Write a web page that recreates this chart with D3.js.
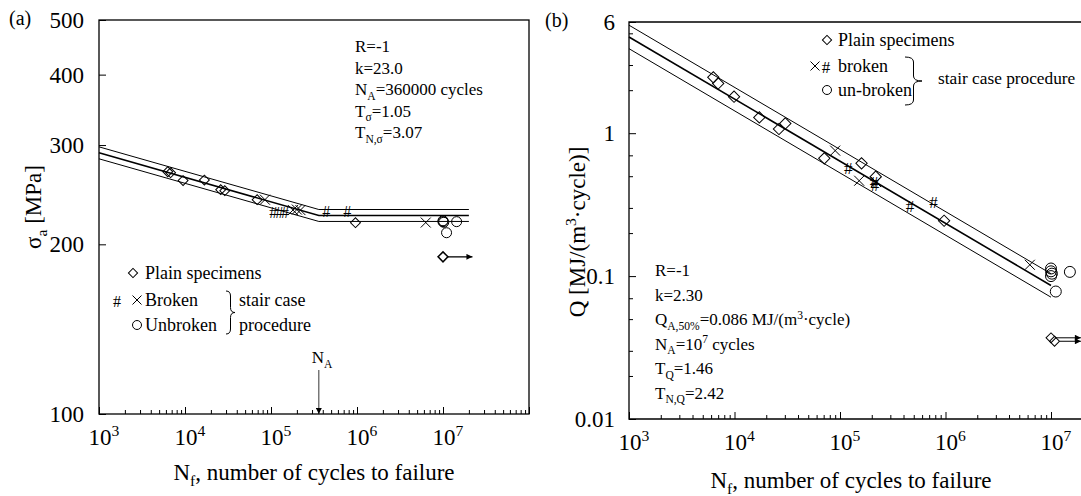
<!DOCTYPE html>
<html><head><meta charset="utf-8">
<script src="https://cdn.jsdelivr.net/npm/d3@7"></script>
<style>
body{margin:0;background:#fff}
svg{display:block}
svg text{font-family:'Liberation Serif','Times New Roman','DejaVu Serif',serif !important;fill:#000}
</style>
</head><body>
<svg id="chart" width="1081" height="496" font-family="'Liberation Serif', 'DejaVu Serif', serif"></svg>
<script>
// ---------- Panel (a): stress amplitude vs. cycles ----------
const plainA      = [[6.3e3,269],[6.8e3,268],[9.5e3,259.5],[1.68e4,260],[2.6e4,250],[2.9e4,249],[6.9e4,240],[9.6e5,218.5]];
const crossA      = [[8.5e4,240],[1.8e5,230],[2.0e5,230.5],[2.2e5,230],[6.3e6,218.6]];
const hashA       = [[1.06e5,227.6],[1.25e5,227.6],[1.45e5,227.6],[4.4e5,228.5],[7.7e5,228.5]];
const unbrokenA   = [[1e7,219.4],[1e7,220.2],[1.02e7,218.8],[1.44e7,219.4],[1.1e7,209.7]];
const runoutA     = [[1e7,190]];
const runoutEndA  = 2.2e7;
const yTicksA     = [100,200,300,400,500];
const xLabelsA    = [3,4,5,6,7];
// fit parameters (a)
const kA = 23.0, NA_A = 360000, Tsig = 1.05, sigA50 = 225, NfitA = [1e3, 2e7];

// ---------- Panel (b): energy per cycle vs. cycles ----------
const plainB      = [[6.3e3,2.46],[7.0e3,2.23],[9.9e3,1.80],[1.72e4,1.29],[2.64e4,1.07],[3.03e4,1.17],[7.1e4,0.667],[1.6e5,0.615],[2.18e5,0.496],[9.7e5,0.244]];
const crossB      = [[9.0e4,0.755],[1.52e5,0.465],[2.2e5,0.455],[6.3e6,0.12]];
const hashB       = [[1.2e5,0.568],[2.15e5,0.434],[2.1e5,0.45],[4.6e5,0.306],[7.7e5,0.326]];
const unbrokenB   = [[1e7,0.113],[1e7,0.108],[1.02e7,0.104],[1e7,0.100],[1.51e7,0.107],[1.11e7,0.078]];
const runoutB     = [[1e7,0.037],[1.08e7,0.035]];
const runoutEndB  = 1.92e7;
const yTicksB     = [0.01,0.1,1,6];
const yLabelsB    = ["0.01","0.1","1","6"];
const xLabelsB    = [3,4,5,6,7];
// fit parameters (b)
const kB = 2.30, QA50 = 0.086, NA_B = 1e7, TQ = 1.46, NfitB = [1e3, 1e7];

const FONT = "'Liberation Serif', 'DejaVu Serif', serif";
const svg = d3.select("#chart");

// scales
const xA = d3.scaleLog().domain([1e3,1e8]).range([99,529]);
const yA = d3.scaleLog().domain([100,500]).range([414,20]);
const xB = d3.scaleLog().domain([1e3,2e7]).range([629,629+105.5*Math.log10(2e4)]);
const yB = d3.scaleLog().domain([0.01,6]).range([419,22]);

// arrow head
svg.append("defs").append("marker")
  .attr("id","head").attr("viewBox","0 0 10 10").attr("refX",10).attr("refY",5)
  .attr("markerUnits","userSpaceOnUse")
  .attr("markerWidth",9).attr("markerHeight",6).attr("orient","auto")
  .append("path").attr("d","M0,0 L10,5 L0,10 Z").attr("fill","#000");

// text with sub/superscripts: parts = [[str, "sub"|"sup"|undefined], ...]
function rich(g, x, y, parts, size, anchor){
  const t = g.append("text").attr("x",x).attr("y",y).attr("font-size",size)
    .attr("font-family",FONT).attr("text-anchor",anchor||"start");
  let cur = 0;
  parts.forEach(p=>{
    const s = t.append("tspan").text(p[0]);
    const shift = p[1]==="sub" ? size*0.28 : p[1]==="sup" ? -size*0.38 : 0;
    s.attr("dy", shift-cur);
    if(p[1]) s.attr("font-size", size*0.68);
    cur = shift;
  });
  return t;
}
function plain(g, x, y, str, size){
  return g.append("text").attr("x",x).attr("y",y).attr("font-size",size)
    .attr("font-family",FONT).text(str);
}

function minorLog(lo, hi, mults){
  const v=[];
  for(let d=lo; d<hi; d++) mults.forEach(m=>v.push(m*Math.pow(10,d)));
  return v;
}

function brace(g, x, y0, y1, w){
  const ym=(y0+y1)/2, r=5, xm=x+w/2;
  g.append("path").attr("fill","none").attr("stroke","#000").attr("stroke-width",1)
    .attr("d",`M${x},${y0} Q${xm},${y0} ${xm},${y0+r} L${xm},${ym-r} Q${xm},${ym} ${x+w},${ym} Q${xm},${ym} ${xm},${ym+r} L${xm},${y1-r} Q${xm},${y1} ${x},${y1}`);
}

function diamond(g, x, y, s, w){
  g.append("path").attr("transform",`translate(${x},${y}) rotate(45)`)
    .attr("d",d3.symbol().type(d3.symbolSquare).size(s*s)())
    .attr("fill","none").attr("stroke","#000").attr("stroke-width",w||1);
}
function cross(g, x, y, h){
  g.append("path").attr("d",`M${x-h},${y-h}L${x+h},${y+h}M${x-h},${y+h}L${x+h},${y-h}`)
    .attr("stroke","#000").attr("stroke-width",1).attr("fill","none");
}
function circ(g, x, y, r, w){
  g.append("circle").attr("cx",x).attr("cy",y).attr("r",r)
    .attr("fill","none").attr("stroke","#000").attr("stroke-width",w||1);
}
function hash(g, x, y, size){
  g.append("text").attr("x",x).attr("y",y).attr("font-size",size).attr("font-family",FONT)
    .attr("text-anchor","middle").attr("dominant-baseline","central").text("#");
}

function xAxis(g, x, y0, labels, decades){
  const [lo,hi]=decades;
  g.append("g").attr("transform",`translate(0,${y0})`)
    .call(d3.axisBottom(x).tickValues(minorLog(lo,hi,[2,3,4,5,6,7,8,9]).filter(v=>v<=x.domain()[1])).tickSize(-4).tickFormat(""))
    .call(s=>s.select(".domain").remove());
  const majors=d3.range(lo,hi+1).map(d=>Math.pow(10,d)).filter(v=>v<=x.domain()[1]);
  g.append("g").attr("transform",`translate(0,${y0})`)
    .call(d3.axisBottom(x).tickValues(majors).tickSize(-7).tickFormat(""))
    .call(s=>s.select(".domain").remove());
  labels.forEach(e=>{
    rich(g, x(Math.pow(10,e))+5, y0+31, [["10"],[String(e),"sup"]], 23, "middle");
  });
}

// ================= Panel (a) =================
const gA = svg.append("g");
gA.append("rect").attr("x",99).attr("y",20).attr("width",430).attr("height",394)
  .attr("fill","none").attr("stroke","#000").attr("stroke-width",1.3);
xAxis(gA, xA, 414, xLabelsA, [3,8]);
gA.append("g").attr("transform","translate(99,0)")
  .call(d3.axisLeft(yA).tickValues(yTicksA).tickSize(-7).tickPadding(15).tickFormat(d3.format("d")))
  .call(s=>s.select(".domain").remove())
  .call(s=>s.selectAll("text").attr("font-size",23).attr("font-family",FONT));

// fitted curves with scatter band (a)
const sigA = N => N<NA_A ? sigA50*Math.pow(NA_A/N,1/kA) : sigA50;
const lineA = d3.line().x(d=>xA(d[0])).y(d=>yA(d[1]));
[[Math.sqrt(Tsig),1],[1,1.6],[1/Math.sqrt(Tsig),1]].forEach(([f,w])=>{
  const pts=[NfitA[0],NA_A,NfitA[1]].map(N=>[N,sigA(N)*f]);
  gA.append("path").attr("d",lineA(pts)).attr("fill","none").attr("stroke","#000").attr("stroke-width",w);
});
plainA.forEach(d=>diamond(gA,xA(d[0]),yA(d[1]),7));
crossA.forEach(d=>cross(gA,xA(d[0]),yA(d[1]),5));
hashA.forEach(d=>hash(gA,xA(d[0]),yA(d[1]),16));
unbrokenA.forEach((d,i)=>circ(gA,xA(d[0]),yA(d[1]),5,1));
runoutA.forEach(d=>{
  gA.append("line").attr("x1",xA(d[0])+5).attr("y1",yA(d[1])).attr("x2",xA(runoutEndA)).attr("y2",yA(d[1]))
    .attr("stroke","#000").attr("stroke-width",1.3).attr("marker-end","url(#head)");
  diamond(gA,xA(d[0]),yA(d[1]),7,1.5);
});

// N_A marker
rich(gA, xA(NA_A)-7, 363, [["N"],["A","sub"]], 17, "start");
gA.append("line").attr("x1",xA(NA_A)).attr("x2",xA(NA_A)).attr("y1",370).attr("y2",414)
  .attr("stroke","#000").attr("stroke-width",0.8).attr("marker-end","url(#head)");

// annotation (a)
const annA=[ [["R=-1"]], [["k=23.0"]], [["N"],["A","sub"],["=360000 cycles"]],
  [["T"],["σ","sub"],["=1.05"]], [["T"],["N,σ","sub"],["=3.07"]] ];
annA.forEach((p,i)=>rich(gA,355,52+i*21.5,p,17));

// legend (a)
diamond(gA,133,273,6.5);
plain(gA,145,279,"Plain specimens",18);
hash(gA,117,301,16);
cross(gA,137,300,4.5);
plain(gA,145,306,"Broken",18);
circ(gA,137,325,4.5);
plain(gA,145,331,"Unbroken",18);
brace(gA,226,291,334,9);
plain(gA,239,306,"stair case",18);
plain(gA,239,331,"procedure",18);

// titles (a)
rich(gA,9,25,[["(a)"]],20,"start");
rich(gA,314,480,[["N"],["f","sub"],[", number of cycles to failure"]],23,"middle");
rich(gA.append("g").attr("transform","translate(41,207) rotate(-90)"),0,0,
  [["σ"],["a","sub"],[" [MPa]"]],23,"middle");

// ================= Panel (b) =================
const gB = svg.append("g");
gB.append("path").attr("d","M1081,22 L629,22 L629,419 L1081,419")
  .attr("fill","none").attr("stroke","#000").attr("stroke-width",1.3);
xAxis(gB, xB, 419, xLabelsB, [3,8]);
gB.append("g").attr("transform","translate(629,0)")
  .call(d3.axisLeft(yB).tickValues(minorLog(-2,0,[2,3,5,7]).concat([2,3,5])).tickSize(-4).tickFormat(""))
  .call(s=>s.select(".domain").remove());
gB.append("g").attr("transform","translate(629,0)")
  .call(d3.axisLeft(yB).tickValues(yTicksB).tickSize(-7).tickPadding(14).tickFormat((d,i)=>yLabelsB[i]))
  .call(s=>s.select(".domain").remove())
  .call(s=>s.selectAll("text").attr("font-size",23).attr("font-family",FONT));

// fitted curves with scatter band (b)
const Qfit = N => QA50*Math.pow(NA_B/N,1/kB);
const lineB = d3.line().x(d=>xB(d[0])).y(d=>yB(d[1]));
[[Math.sqrt(TQ),1],[1,1.6],[1/Math.sqrt(TQ),1]].forEach(([f,w])=>{
  const pts=NfitB.map(N=>[N,Qfit(N)*f]);
  gB.append("path").attr("d",lineB(pts)).attr("fill","none").attr("stroke","#000").attr("stroke-width",w);
});
plainB.forEach(d=>diamond(gB,xB(d[0]),yB(d[1]),8));
crossB.forEach(d=>cross(gB,xB(d[0]),yB(d[1]),5));
hashB.forEach(d=>hash(gB,xB(d[0]),yB(d[1]),17));
unbrokenB.forEach(d=>circ(gB,xB(d[0]),yB(d[1]),5.5,1));
runoutB.forEach(d=>{
  gB.append("line").attr("x1",xB(d[0])+5).attr("y1",yB(d[1])).attr("x2",xB(runoutEndB)).attr("y2",yB(d[1]))
    .attr("stroke","#000").attr("stroke-width",1).attr("marker-end","url(#head)");
  diamond(gB,xB(d[0]),yB(d[1]),7);
});

// annotation (b)
const annB=[ [["R=-1"]], [["k=2.30"]], [["Q"],["A,50%","sub"],["=0.086 MJ/(m"],["3","sup"],["·cycle)"]],
  [["N"],["A","sub"],["=10"],["7","sup"],[" cycles"]], [["T"],["Q","sub"],["=1.46"]], [["T"],["N,Q","sub"],["=2.42"]] ];
annB.forEach((p,i)=>rich(gB,655,276+i*24.5,p,17));

// legend (b)
diamond(gB,827,40,6.5);
plain(gB,838,46,"Plain specimens",18);
cross(gB,815,66,4.5);
hash(gB,826,67,17);
plain(gB,838,72,"broken",18);
circ(gB,827,90,4.5);
plain(gB,838,96,"un-broken",18);
brace(gB,905,57,105,17);
plain(gB,938,84,"stair case procedure",17.3);

// titles (b)
rich(gB,545,27,[["(b)"]],20,"start");
rich(gB,851,488,[["N"],["f","sub"],[", number of cycles to failure"]],23,"middle");
rich(gB.append("g").attr("transform","translate(585,232) rotate(-90)"),0,0,
  [["Q [MJ/(m"],["3","sup"],["·cycle)]"]],23,"middle");
</script>
</body></html>
